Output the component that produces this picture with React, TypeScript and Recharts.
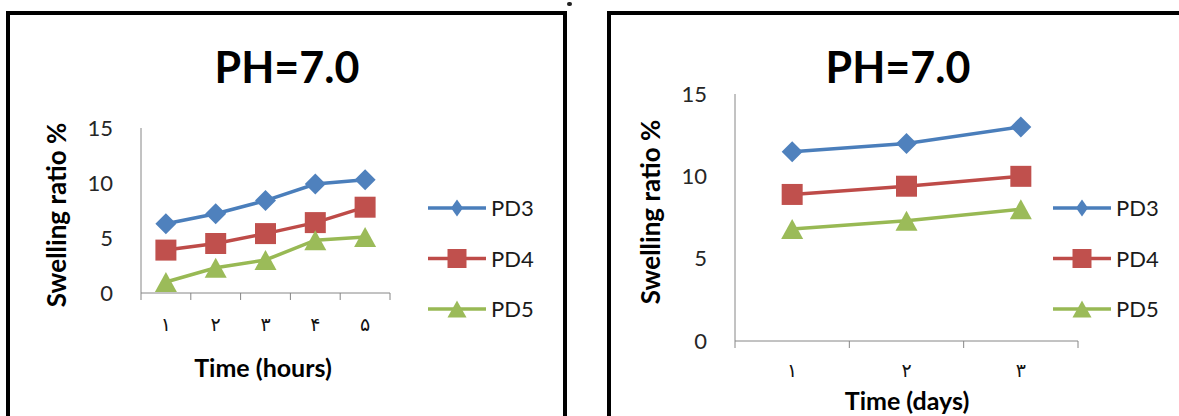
import React from 'react';
import { LineChart, Line, XAxis, YAxis } from 'recharts';

// x tick labels (Persian digits) for the two panels
const hourLabels = ['۱', '۲', '۳', '۴', '۵'];
const dayLabels = ['۱', '۲', '۳'];

// swelling ratio % per hour
const pd3Hours = [6.3, 7.2, 8.4, 9.9, 10.3];
const pd4Hours = [3.9, 4.5, 5.4, 6.4, 7.8];
const pd5Hours = [1.0, 2.3, 3.0, 4.8, 5.1];

// swelling ratio % per day
const pd3Days = [11.5, 12.0, 13.0];
const pd4Days = [8.9, 9.4, 10.0];
const pd5Days = [6.8, 7.3, 8.0];

const yTicks = [0, 5, 10, 15];

const AXIS = '#868686';
const FONT = 'Lato, "Open Sans", sans-serif';

type Shape = 'diamond' | 'square' | 'triangle';

const SERIES: { key: string; stroke: string; fill: string; shape: Shape }[] = [
	{ key: 'PD3', stroke: '#4a7ebb', fill: '#4f81bd', shape: 'diamond' },
	{ key: 'PD4', stroke: '#be4b48', fill: '#c0504d', shape: 'square' },
	{ key: 'PD5', stroke: '#98b954', fill: '#9bbb59', shape: 'triangle' },
];

const buildRows = (labels: string[], pd3: number[], pd4: number[], pd5: number[]) =>
	labels.map((label, i) => ({ x: i + 1, label, PD3: pd3[i], PD4: pd4[i], PD5: pd5[i] }));

// w/h are half-width and half-height of the marker
const markerPath = (shape: Shape, cx: number, cy: number, w: number, h: number) => {
	if (shape === 'diamond') {
		return `M${cx},${cy - h}L${cx + w},${cy}L${cx},${cy + h}L${cx - w},${cy}Z`;
	}
	if (shape === 'square') {
		return `M${cx - w},${cy - h}H${cx + w}V${cy + h}H${cx - w}Z`;
	}
	return `M${cx},${cy - h}L${cx + w},${cy + h}L${cx - w},${cy + h}Z`;
};

const CHART_MARK: Record<Shape, [number, number]> = {
	diamond: [10.5, 10.5],
	square: [10.5, 10.5],
	triangle: [11, 10],
};

const LEGEND_MARK: Record<Shape, [number, number]> = {
	diamond: [6, 8.5],
	square: [9.5, 9.5],
	triangle: [9.5, 8.5],
};

const dotFor = (shape: Shape, fill: string) => (props: any) => {
	const { cx, cy, index } = props;
	if (cx == null || cy == null) return <g key={`d-${index}`} />;
	const [w, h] = CHART_MARK[shape];
	return <path key={`d-${index}`} d={markerPath(shape, cx, cy, w, h)} fill={fill} />;
};

interface PanelProps {
	rows: any[];
	labels: string[];
	left: number;
	width: number;
	height: number;
	labelGap: number;
	margin: { top: number; right: number; bottom: number; left: number };
}

const SwellingChart = ({ rows, labels, left, width, height, labelGap, margin }: PanelProps) => {
	const n = labels.length;
	const bounds = Array.from({ length: n + 1 }, (_, i) => i + 0.5);
	const centers = rows.map((r) => r.x);
	return (
		<div style={{ position: 'absolute', left, top: 0 }}>
			<LineChart width={width} height={height} data={rows} margin={margin}>
				{/* axis line with tick marks between categories */}
				<XAxis
					xAxisId="band"
					dataKey="x"
					type="number"
					domain={[0.5, n + 0.5]}
					ticks={bounds}
					interval={0}
					tickFormatter={() => ''}
					tickSize={7}
					height={7}
					stroke={AXIS}
				/>
				{/* category labels centred in each band */}
				<XAxis
					xAxisId="cat"
					dataKey="x"
					type="number"
					domain={[0.5, n + 0.5]}
					ticks={centers}
					interval={0}
					axisLine={false}
					tickLine={false}
					tickSize={0}
					tickMargin={labelGap}
					height={30}
					tickFormatter={(v: number) => labels[v - 1]}
					tick={{ fontFamily: '"DejaVu Sans"', fontSize: 19, fill: '#111' }}
				/>
				<YAxis
					type="number"
					domain={[0, 15]}
					ticks={yTicks}
					interval={0}
					width={40}
					tickLine={false}
					tickSize={0}
					tickMargin={28}
					stroke={AXIS}
					tick={{ fontFamily: FONT, fontSize: 22, fill: '#262626' }}
				/>
				{SERIES.map((s) => (
					<Line
						key={s.key}
						xAxisId="band"
						dataKey={s.key}
						stroke={s.stroke}
						strokeWidth={3.5}
						dot={dotFor(s.shape, s.fill)}
						activeDot={false}
						isAnimationActive={false}
					/>
				))}
			</LineChart>
		</div>
	);
};

const SeriesLegend = ({ left, top }: { left: number; top: number }) => (
	<svg style={{ position: 'absolute', left, top }} width={120} height={130}>
		{SERIES.map((s, i) => {
			const y = 15 + i * 50.5;
			const [w, h] = LEGEND_MARK[s.shape];
			return (
				<g key={s.key}>
					<line x1={0} x2={58} y1={y} y2={y} stroke={s.stroke} strokeWidth={3.5} />
					<path d={markerPath(s.shape, 29, y, w, h)} fill={s.fill} />
					<text x={63} y={y + 8} fontFamily={FONT} fontSize={22} fill="#1a1a1a">
						{s.key}
					</text>
				</g>
			);
		})}
	</svg>
);

const textAt = (text: string, cx: number, cy: number, size: number, rotate = 0) => (
	<div
		style={{
			position: 'absolute',
			left: cx,
			top: cy,
			transform: `translate(-50%, -50%) rotate(${rotate}deg)`,
			fontFamily: FONT,
			fontWeight: 'bold',
			fontSize: size,
			lineHeight: 1,
			whiteSpace: 'nowrap',
			color: '#000',
		}}
	>
		{text}
	</div>
);

const hourRows = buildRows(hourLabels, pd3Hours, pd4Hours, pd5Hours);
const dayRows = buildRows(dayLabels, pd3Days, pd4Days, pd5Days);

export default function App() {
	return (
		<div style={{ position: 'relative', width: 1179, height: 416, overflow: 'hidden', background: '#fff' }}>
			<style>{'body{margin:0}'}</style>
			<div style={{ position: 'absolute', left: 6, top: 11, width: 553, height: 420, border: '4px solid #000' }} />
			<div style={{ position: 'absolute', left: 607, top: 11, width: 600, height: 420, border: '4px solid #000' }} />
			<div style={{ position: 'absolute', left: 567, top: 2, width: 5, height: 4, borderRadius: 2, background: '#222' }} />

			<SwellingChart
				rows={hourRows}
				labels={hourLabels}
				left={0}
				width={560}
				height={400}
				labelGap={18}
				margin={{ top: 128, right: 170, left: 101, bottom: 70 }}
			/>
			<SwellingChart
				rows={dayRows}
				labels={dayLabels}
				left={600}
				width={579}
				height={416}
				labelGap={16}
				margin={{ top: 94, right: 101, left: 95, bottom: 38 }}
			/>

			{textAt('PH=7.0', 287, 66, 43)}
			{textAt('PH=7.0', 898, 66, 43)}
			{textAt('Swelling ratio %', 56, 215, 26, -90)}
			{textAt('Swelling ratio %', 650, 212, 26, -90)}
			{textAt('Time (hours)', 263, 367, 25)}
			{textAt('Time (days)', 907, 400, 25)}

			<SeriesLegend left={428} top={193} />
			<SeriesLegend left={1053} top={193} />
		</div>
	);
}
